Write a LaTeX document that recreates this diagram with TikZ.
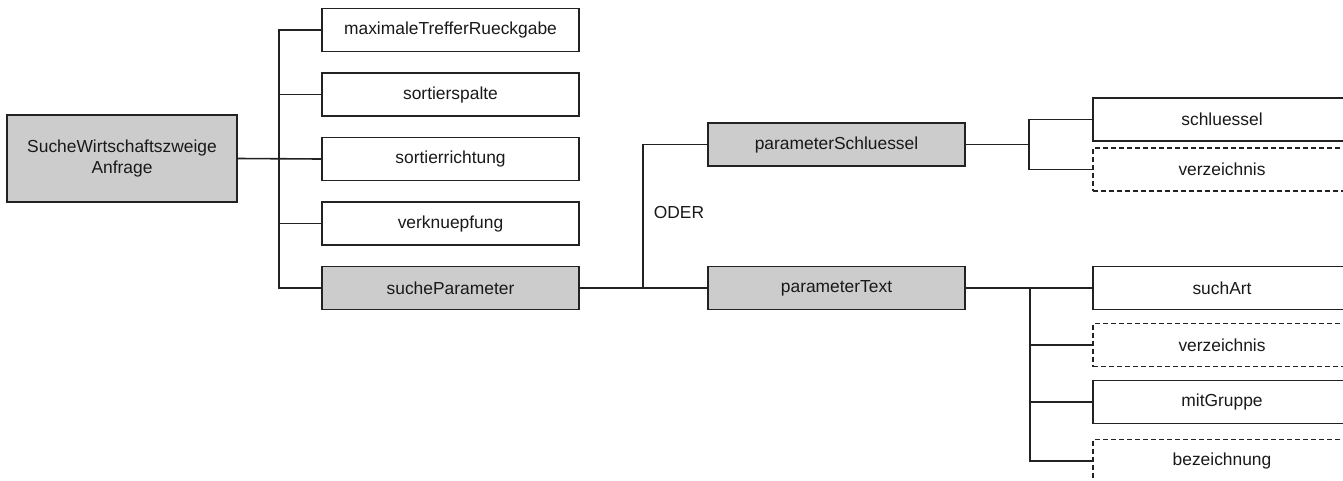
\documentclass[tikz,border=0pt]{standalone}
\usepackage{fontspec}
\setmainfont{Liberation Sans}
\definecolor{boxgray}{HTML}{CCCCCC}
\definecolor{linecol}{HTML}{222222}
\tikzset{
  box/.style={draw=linecol, line width=1.6pt, minimum height=43pt, inner sep=0pt, font=\fontsize{17.4}{20.5}\selectfont, text=black!90},
  gbox/.style={box, fill=boxgray},
  dbox/.style={box, dash pattern=on 5pt off 3pt},
  conn/.style={draw=linecol, line width=1.6pt},
}
\begin{document}
\begin{tikzpicture}[x=1pt,y=-1pt]
\useasboundingbox (0,0) rectangle (1343,480);
\clip (0,0) rectangle (1343,480);
% root
\node[gbox, minimum width=230pt, minimum height=87pt, align=center] (root) at (122,158.5) {SucheWirtschaftszweige\\Anfrage};
% middle column
\node[box, minimum width=257pt] (maxi) at (450.5,30) {maximaleTrefferRueckgabe};
\node[box, minimum width=257pt] (sortsp) at (450.5,94.5) {sortierspalte};
\node[box, minimum width=257pt] (sortri) at (450.5,159) {sortierrichtung};
\node[box, minimum width=257pt] (verkn) at (450.5,223.5) {verknuepfung};
\node[gbox, minimum width=257pt] (such) at (450.5,288) {sucheParameter};
% parameter column
\node[gbox, minimum width=257pt] (pschl) at (836.5,144.5) {parameterSchluessel};
\node[gbox, minimum width=257pt] (ptext) at (836.5,288) {parameterText};
\node[font=\fontsize{17.4}{20.5}\selectfont, text=black!90, inner sep=0pt] (oder) at (679,213) {ODER};
% right column
\node[box, minimum width=258pt] (schl) at (1222,119.5) {schluessel};
\node[dbox, minimum width=258pt] (verzA) at (1222,169.5) {verzeichnis};
\node[box, minimum width=258pt] (sucha) at (1222,288) {suchArt};
\node[dbox, minimum width=258pt] (verzB) at (1222,345) {verzeichnis};
\node[box, minimum width=258pt] (mitg) at (1222,402) {mitGruppe};
\node[dbox, minimum width=258pt] (bez) at (1222,461) {bezeichnung};
% junction coordinates
\coordinate (j0) at (279,159);
\coordinate (j1) at (643,288);
\coordinate (j2) at (1029,144.5);
\coordinate (j3) at (1030,288);
% connectors
\draw[conn] (root.east) -- (sortri.west);
\draw[conn] (maxi.west) -| (j0) |- (such.west);
\draw[conn] (sortsp.west) -- (sortsp.west -| j0);
\draw[conn] (verkn.west) -- (verkn.west -| j0);
\draw[conn] (such.east) -- (ptext.west);
\draw[conn] (pschl.west) -| (j1);
\draw[conn] (pschl.east) -- (j2);
\draw[conn] (schl.west) -| (j2) |- (verzA.west);
\draw[conn] (ptext.east) -- (sucha.west);
\draw[conn] (j3) |- (bez.west);
\draw[conn] (verzB.west) -- (verzB.west -| j3);
\draw[conn] (mitg.west) -- (mitg.west -| j3);
\end{tikzpicture}
\end{document}
